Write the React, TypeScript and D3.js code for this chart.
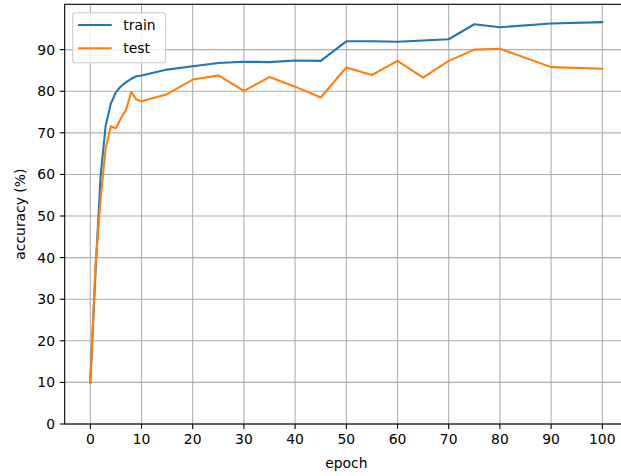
import React from "react";
import * as d3 from "d3";

const epochs = [0, 1, 2, 3, 4, 5, 6, 7, 8, 9, 10, 15, 20, 25, 30, 35, 40, 45, 50, 55, 60, 65, 70, 75, 80, 90, 100];
const trainAcc = [10, 36, 59.5, 71.7, 77, 79.8, 81.2, 82.2, 83, 83.6, 83.8, 85.2, 86.0, 86.8, 87.1, 87.0, 87.4, 87.3, 92.0, 92.0, 91.9, 92.2, 92.5, 96.1, 95.4, 96.3, 96.6];
const testAcc = [10, 38, 54, 66.3, 71.6, 71.1, 73.5, 75.6, 79.8, 78.0, 77.6, 79.3, 82.8, 83.8, 80.1, 83.4, 81.1, 78.5, 85.7, 83.9, 87.3, 83.3, 87.3, 90.0, 90.2, 85.8, 85.4];
const xTicks = [0, 10, 20, 30, 40, 50, 60, 70, 80, 90, 100];
const yTicks = [0, 10, 20, 30, 40, 50, 60, 70, 80, 90];
const seriesNames = ["train", "test"];
const seriesColors = ["#1f77b4", "#ff7f0e"];

const W = 621, H = 476;
const left = 64.7, right = 627.9, top = 4.3, bottom = 424;
const font = "DejaVu Sans, sans-serif";

export default function App() {
  const x = d3.scaleLinear().domain([-5, 105]).range([left, right]);
  const y = d3.scaleLinear().domain([0, 100.9]).range([bottom, top]);
  const series = [trainAcc, testAcc];
  const line = d3.line<number>().x((_, i) => x(epochs[i])).y((d) => y(d));
  return (
    <svg width={W} height={H} style={{ position: "absolute", left: 0, top: 0 }} fontFamily={font}>
      <rect x={0} y={0} width={W} height={H} fill="#fff" />
      <g>
        {xTicks.map((t) => (
          <line key={"gx" + t} x1={x(t)} x2={x(t)} y1={top} y2={bottom} stroke="#b0b0b0" strokeWidth={1.1} />
        ))}
        {yTicks.map((t) => (
          <line key={"gy" + t} x1={left} x2={right} y1={y(t)} y2={y(t)} stroke="#b0b0b0" strokeWidth={1.1} />
        ))}
      </g>
      {series.map((s, k) => (
        <path key={k} d={line(s) || ""} fill="none" stroke={seriesColors[k]} strokeWidth={2.08} strokeLinejoin="round" strokeLinecap="square" />
      ))}
      <rect x={left} y={top} width={right - left} height={bottom - top} fill="none" stroke="#000" strokeWidth={1.1} />
      {xTicks.map((t) => (
        <g key={"xt" + t}>
          <line x1={x(t)} x2={x(t)} y1={bottom} y2={bottom + 4.9} stroke="#000" strokeWidth={1.1} />
          <text x={x(t)} y={bottom + 9.7} dy="0.76em" textAnchor="middle" fontSize={13.9} fill="#000">{t}</text>
        </g>
      ))}
      {yTicks.map((t) => (
        <g key={"yt" + t}>
          <line x1={left - 4.9} x2={left} y1={y(t)} y2={y(t)} stroke="#000" strokeWidth={1.1} />
          <text x={left - 9.7} y={y(t)} dy="0.36em" textAnchor="end" fontSize={13.9} fill="#000">{t}</text>
        </g>
      ))}
      <text x={(left + right) / 2} y={468} textAnchor="middle" fontSize={13.9} fill="#000">epoch</text>
      <text transform={`translate(24.5,${(top + bottom) / 2}) rotate(-90)`} textAnchor="middle" fontSize={13.9} fill="#000">accuracy (%)</text>
      <g>
        <rect x={72.7} y={12.7} width={93} height={50} rx={2.8} fill="#fff" fillOpacity={0.8} stroke="#cccccc" strokeWidth={1.1} />
        {seriesNames.map((n, k) => (
          <g key={n}>
            <line x1={78} x2={111.7} y1={25 + k * 23.3} y2={25 + k * 23.3} stroke={seriesColors[k]} strokeWidth={2.08} />
            <text x={123.3} y={25 + k * 23.3} dy="0.36em" fontSize={13.9} fill="#000">{n}</text>
          </g>
        ))}
      </g>
    </svg>
  );
}
